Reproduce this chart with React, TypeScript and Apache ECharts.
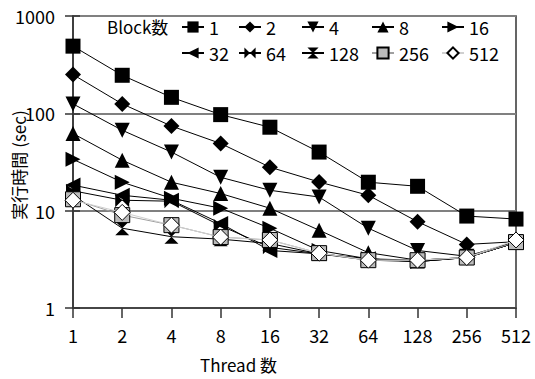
import React, { useEffect, useRef } from "react";
import * as echarts from "echarts";

const threads = ["1", "2", "4", "8", "16", "32", "64", "128", "256", "512"];
const blocks = ["1", "2", "4", "8", "16", "32", "64", "128", "256", "512"];
const s1 = [490, 246, 146, 97, 72, 40, 19.6, 17.8, 8.8, 8.2];
const s2 = [250, 125, 74, 49, 28, 19.7, 14.4, 7.7, 4.5, 4.8];
const s4 = [125, 67, 40, 22, 16.2, 13.8, 6.6, 3.9, 3.4, 4.8];
const s8 = [62, 33, 19.6, 15, 10.6, 6.3, 3.7, 3.1, 3.3, 4.7];
const s16 = [33.7, 19.6, 13.4, 10.6, 6.6, 3.9, 3.2, 3.0, 3.3, 4.7];
const s32 = [18.3, 14.4, 12.8, 7.4, 3.9, 3.6, 3.2, 3.1, 3.3, 4.7];
const s64 = [16, 12.8, 12.5, 7.0, 4.2, 3.6, 3.2, 3.0, 3.3, 4.7];
const s128 = [14.4, 6.6, 5.4, 5.1, 4.6, 3.6, 3.1, 3.0, 3.3, 4.7];
const s256 = [13.1, 9.0, 7.1, 5.35, 5.0, 3.66, 3.1, 3.1, 3.3, 4.75];
const s512 = [12.8, 9.6, 7.1, 5.35, 5.0, 3.66, 3.1, 3.1, 3.3, 5.0];
const values = [s1, s2, s4, s8, s16, s32, s64, s128, s256, s512];
const yTicks = [1, 10, 100, 1000];

const FONT = "'Noto Sans CJK JP', 'Noto Sans', sans-serif";

const symbols = [
  { symbol: "rect", rot: 0, size: 15, fill: "#000" },
  { symbol: "diamond", rot: 0, size: 16, fill: "#000" },
  { symbol: "triangle", rot: 180, size: 15, fill: "#000" },
  { symbol: "triangle", rot: 0, size: 15, fill: "#000" },
  { symbol: "triangle", rot: -90, size: 15, fill: "#000" },
  { symbol: "triangle", rot: 90, size: 15, fill: "#000" },
  { symbol: "path://M0,0 L0,10 L10,0 L10,10 Z", rot: 0, size: 14, fill: "#000" },
  { symbol: "path://M0,0 L10,0 L0,10 L10,10 Z", rot: 0, size: 14, fill: "#000" },
  { symbol: "rect", rot: 0, size: 15, fill: "#bbbbbb" },
  { symbol: "diamond", rot: 0, size: 16, fill: "#ffffff" },
];
const lineColors = ["#000", "#000", "#000", "#000", "#000", "#000", "#000", "#000", "#a0a0a0", "#d0d0d0"];

export default function App() {
  const ref = useRef<HTMLDivElement>(null);
  useEffect(() => {
    if (!ref.current) return;
    const chart = echarts.init(ref.current, null, { renderer: "svg" });
    const series = blocks.map((b, i) => ({
      name: b,
      type: "line",
      data: values[i],
      symbol: symbols[i].symbol,
      symbolRotate: symbols[i].rot,
      symbolSize: symbols[i].size,
      showAllSymbol: true,
      lineStyle: { color: lineColors[i], width: 1 },
      itemStyle: {
        color: symbols[i].fill,
        borderColor: "#000",
        borderWidth: i >= 8 ? 1 : 0,
      },
      z: 2 + i,
    }));
    const cols = [
      { left: 181, items: ["1", "32"] },
      { left: 238, items: ["2", "64"] },
      { left: 301, items: ["4", "128"] },
      { left: 371, items: ["8", "256"] },
      { left: 441, items: ["16", "512"] },
    ];
    const legends = cols.map((c) => ({
      data: c.items,
      orient: "vertical",
      left: c.left,
      top: 18,
      itemGap: 8,
      itemWidth: 22,
      itemHeight: 14,
      padding: 0,
      textStyle: { fontFamily: FONT, fontSize: 18, color: "#000" },
    }));
    chart.setOption({
      animation: false,
      backgroundColor: "#fff",
      textStyle: { fontFamily: FONT },
      grid: {
        left: 73,
        right: 19,
        top: 16,
        bottom: 71,
        show: true,
        borderColor: "#333",
        borderWidth: 1.5,
      },
      legend: legends,
      graphic: [
        {
          type: "text",
          left: 107,
          top: 18,
          style: { text: "Block数", font: `17px ${FONT}`, fill: "#000" },
        },
        {
          type: "text",
          left: 200,
          top: 356,
          style: { text: "Thread 数", font: `17px ${FONT}`, fill: "#000" },
        },
        {
          type: "text",
          x: 18,
          y: 165,
          rotation: Math.PI / 2,
          style: {
            text: "実行時間 (sec)",
            font: `17px ${FONT}`,
            fill: "#000",
            align: "center",
            verticalAlign: "middle",
          },
        },
      ],
      xAxis: {
        type: "category",
        data: threads,
        boundaryGap: false,
        axisLine: { lineStyle: { color: "#333", width: 1.5 } },
        axisTick: { alignWithLabel: true, length: 10, lineStyle: { color: "#333", width: 1.5 } },
        axisLabel: { fontFamily: FONT, fontSize: 18, color: "#000", margin: 18 },
        splitLine: { show: false },
      },
      yAxis: [
        {
          type: "log",
          logBase: 10,
          min: yTicks[0],
          max: yTicks[yTicks.length - 1],
          axisLine: { show: true, lineStyle: { color: "#333", width: 1.5 } },
          axisTick: { show: true, length: 8, lineStyle: { color: "#333", width: 1.5 } },
          axisLabel: {
            fontFamily: FONT,
            fontSize: 18,
            color: "#000",
            margin: 18,
            formatter: (v: number) => String(Math.round(v)),
          },
          splitLine: { show: true, lineStyle: { color: "#808080", width: 2 } },
        },
        {
          type: "log",
          logBase: 10,
          min: yTicks[0],
          max: yTicks[yTicks.length - 1],
          position: "left",
          axisLine: { show: false },
          axisTick: { show: true, inside: true, length: 7, lineStyle: { color: "#333", width: 1.5 } },
          axisLabel: { show: false },
          splitLine: { show: false },
        },
      ],
      series,
    });
    return () => chart.dispose();
  }, []);
  return <div ref={ref} style={{ width: 535, height: 379, position: "absolute", left: 0, top: 0 }} />;
}
